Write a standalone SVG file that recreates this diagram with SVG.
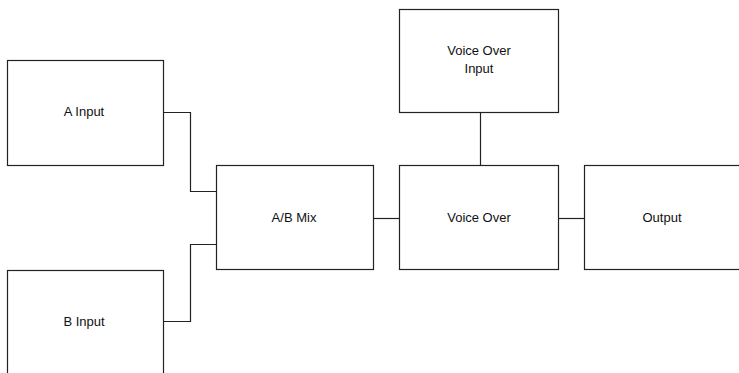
<svg xmlns="http://www.w3.org/2000/svg" width="739" height="373" viewBox="0 0 739 373">
<style>
.box{fill:#fff;stroke:#222;stroke-width:1.2}
.ln{fill:none;stroke:#222;stroke-width:1.2}
text{font-family:"Liberation Sans",Arial,sans-serif;font-size:13px;fill:#111;text-anchor:middle}
</style>
<rect width="739" height="373" fill="#fff"/>
<g id="connectors">
<polyline class="ln" points="163.5,112.5 190.5,112.5 190.5,191.5 216.5,191.5"/>
<polyline class="ln" points="163.5,321.5 190.5,321.5 190.5,244.5 216.5,244.5"/>
<line class="ln" x1="373.5" y1="218.5" x2="399.5" y2="218.5"/>
<line class="ln" x1="480.5" y1="112.5" x2="480.5" y2="165.5"/>
<line class="ln" x1="558.5" y1="218.5" x2="584.5" y2="218.5"/>
</g>
<g id="a-input"><rect class="box" x="7.5" y="60.5" width="156" height="105"/><text x="84" y="116">A Input</text></g>
<g id="b-input"><rect class="box" x="7.5" y="270.5" width="156" height="110"/><text x="84" y="326">B Input</text></g>
<g id="ab-mix"><rect class="box" x="216.5" y="165.5" width="157" height="104"/><text x="294" y="222">A/B Mix</text></g>
<g id="voice-over-input"><rect class="box" x="399.5" y="9.5" width="159" height="103"/><text x="479" y="55">Voice Over</text><text x="479" y="73">Input</text></g>
<g id="voice-over"><rect class="box" x="399.5" y="165.5" width="159" height="104"/><text x="479" y="222">Voice Over</text></g>
<g id="output"><rect class="box" x="584.5" y="165.5" width="160" height="104"/><text x="662" y="222">Output</text></g>
</svg>
